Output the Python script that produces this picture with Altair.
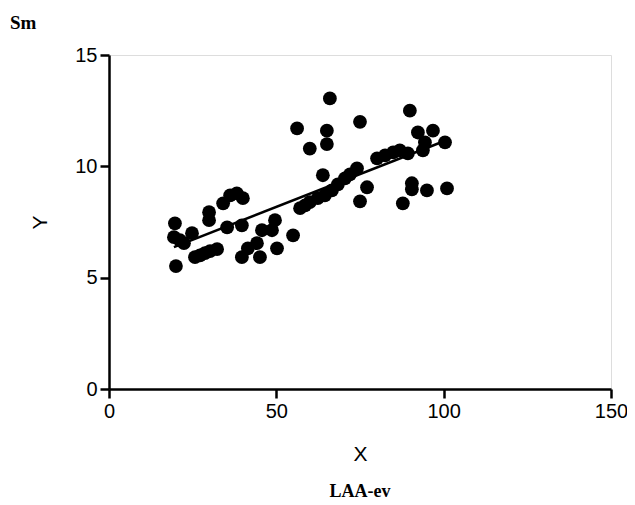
import altair as alt
import pandas as pd

x_vals = [19.7, 19.4, 21.2, 22.4, 24.8, 20.0, 25.7, 27.2, 28.7, 30.2, 32.3,
          29.9, 29.9, 34.1, 36.2, 38.2, 40.0, 35.3, 39.7, 39.7, 41.5, 44.2,
          45.1, 45.7, 49.6, 48.7, 50.2, 55.0, 56.2, 60.0, 65.1, 65.1, 66.0,
          75.0, 63.9, 89.9, 57.1, 58.6, 60.0, 62.4, 64.5, 66.6, 68.4, 70.5,
          72.0, 74.1, 75.0, 80.1, 82.5, 84.9, 86.9, 89.3, 92.3, 96.8, 100.4,
          94.4, 93.8, 90.5, 90.5, 95.0, 101.0, 87.8, 77.1]
y_vals = [7.44, 6.82, 6.68, 6.55, 7.0, 5.52, 5.92, 6.0, 6.1, 6.19, 6.28,
          7.94, 7.58, 8.34, 8.7, 8.79, 8.57, 7.26, 7.35, 5.92, 6.32, 6.55,
          5.92, 7.13, 7.58, 7.13, 6.32, 6.9, 11.7, 10.8, 11.6, 11.0, 13.05,
          12.0, 9.6, 12.5, 8.12, 8.25, 8.39, 8.57, 8.7, 8.92, 9.19, 9.46,
          9.64, 9.91, 8.43, 10.36, 10.49, 10.63, 10.72, 10.58, 11.52, 11.6, 11.08,
          11.08, 10.72, 9.24, 8.97, 8.92, 9.01, 8.34, 9.06]
x_ticks = [0, 50, 100, 150]
y_ticks = [0, 5, 10, 15]
panel_title = ["Sm"]
panel_caption = ["LAA-ev"]

df = pd.DataFrame({"X": x_vals, "Y": y_vals})

W, H = 502, 334

x_enc = alt.X("X:Q", scale=alt.Scale(domain=[0, 150], nice=False),
              axis=alt.Axis(values=x_ticks, title="X", grid=False,
                            domainColor="black", domainWidth=2.5,
                            tickColor="black", tickWidth=2.5, tickSize=9,
                            labelFont="Liberation Sans", labelFontSize=20,
                            labelColor="black", labelPadding=3,
                            labelFlush=False, labelOverlap=False,
                            titleFont="Liberation Sans", titleFontSize=21,
                            titleFontWeight="normal", titleColor="black",
                            titlePadding=22))
y_enc = alt.Y("Y:Q", scale=alt.Scale(domain=[0, 15], nice=False),
              axis=alt.Axis(values=y_ticks, title="Y", grid=False,
                            domainColor="black", domainWidth=2.5,
                            tickColor="black", tickWidth=2.5, tickSize=9,
                            labelFont="Liberation Sans", labelFontSize=20,
                            labelColor="black", labelPadding=3,
                            labelFlush=False,
                            titleFont="Liberation Sans", titleFontSize=21,
                            titleFontWeight="normal", titleColor="black",
                            titlePadding=24))

base = alt.Chart(df)
points = base.mark_circle(color="black", opacity=1, size=190).encode(x=x_enc, y=y_enc)
line = base.transform_regression("X", "Y").mark_line(color="black", strokeWidth=2.5).encode(
    x=alt.X("X:Q"), y=alt.Y("Y:Q"))

cap = alt.Chart(pd.DataFrame({"t": panel_caption})).mark_text(
    font="Liberation Serif", fontWeight="bold", fontSize=18, color="black",
    align="center", baseline="alphabetic").encode(
    text="t:N", x=alt.value(W / 2), y=alt.value(H + 108))

ttl = alt.Chart(pd.DataFrame({"t": panel_title})).mark_text(
    font="Liberation Serif", fontWeight="bold", fontSize=19, color="black",
    align="left", baseline="alphabetic").encode(
    text="t:N", x=alt.value(-99), y=alt.value(-26))

chart = alt.layer(points, line, cap, ttl).properties(
    width=W, height=H,
    autosize=alt.AutoSizeParams(type="none"),
    padding={"left": 101, "top": 47, "right": 16, "bottom": 112},
).configure_view(stroke=None).configure(background="white")

chart.save("out.html", embed_options={"renderer": "svg", "actions": False})
